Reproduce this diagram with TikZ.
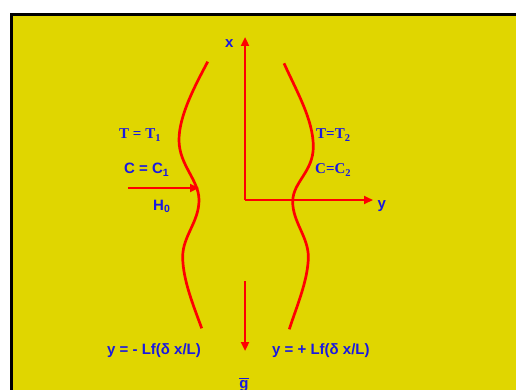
\documentclass[tikz,border=0pt]{standalone}
\usepackage{fontspec}
\setmainfont{Liberation Serif}
\setsansfont{Liberation Sans}
\usetikzlibrary{arrows.meta}
\definecolor{bgyellow}{RGB}{224,214,0}
\definecolor{lblue}{RGB}{25,25,225}
\definecolor{lred}{RGB}{255,0,0}
\begin{document}
\begin{tikzpicture}[x=1pt,y=-1pt,
  wall/.style={draw=lred,line width=2.7pt},
  axisarrow/.style={draw=lred,line width=2.7pt,-{Triangle[length=9pt,width=8pt]}},
  sanslbl/.style={text=lblue,font=\sffamily\bfseries\fontsize{15}{17}\selectfont,inner sep=0pt},
  seriflbl/.style={text=lblue,font=\rmfamily\bfseries\fontsize{15}{17}\selectfont,inner sep=0pt}]
\useasboundingbox (0,0) rectangle (516,390);
\clip (0,0) rectangle (516,390);
\fill[white] (0,0) rectangle (516,390);
\filldraw[fill=bgyellow,draw=black,line width=3pt] (11.5,14.5) rectangle (530,400);

% walls
\draw[wall] (207.7,61.7) .. controls (196,84) and (179,115) .. (179,140)
  .. controls (179,165) and (199,180) .. (199,200)
  .. controls (199,222) and (182.7,236) .. (182.7,256.7)
  .. controls (182.7,280) and (194,307) .. (201.7,328.3);
\draw[wall] (284,63.3) .. controls (297,92) and (313.3,120) .. (313.3,146.7)
  .. controls (313.3,172) and (292.7,182) .. (292.7,201.7)
  .. controls (292.7,222) and (308.3,237) .. (308.3,256.7)
  .. controls (308.3,280) and (296,308) .. (289.3,329.3);

% axes and arrows
\coordinate (O) at (245,200);
\coordinate (xtip) at (245,37);
\coordinate (ytip) at (373,200);
\coordinate (hstart) at (128,188);
\coordinate (hend) at (199,188);
\coordinate (gstart) at (245,281);
\coordinate (gend) at (245,351);
\draw[axisarrow] (O) -- (xtip);
\draw[axisarrow] (O) -- (ytip);
\draw[axisarrow] (hstart) -- (hend);
\draw[axisarrow] (gstart) -- (gend);

% labels
\node[sanslbl,anchor=base west] (xl) at (225,47.5) {x};
\node[seriflbl,anchor=base west] (t1) at (119,139) {T = T\textsubscript{1}};
\node[sanslbl,anchor=base west] (c1) at (124,174) {C = C\textsubscript{1}};
\node[sanslbl,anchor=base west] (h0) at (153,210) {H\textsubscript{0}};
\node[seriflbl,anchor=base west] (t2) at (316,139) {T=T\textsubscript{2}};
\node[seriflbl,anchor=base west] (c2) at (315,174) {C=C\textsubscript{2}};
\node[sanslbl,anchor=base west] (yl) at (377.5,208) {y};
\node[sanslbl,anchor=base west] (wl) at (107,354) {y = - Lf(δ x/L)};
\node[sanslbl,anchor=base west] (wr) at (272,354) {y = + Lf(δ x/L)};
\node[sanslbl,anchor=base] (gl) at (244,388) {\(\overline{\hbox{g}}\)};
\end{tikzpicture}
\end{document}
